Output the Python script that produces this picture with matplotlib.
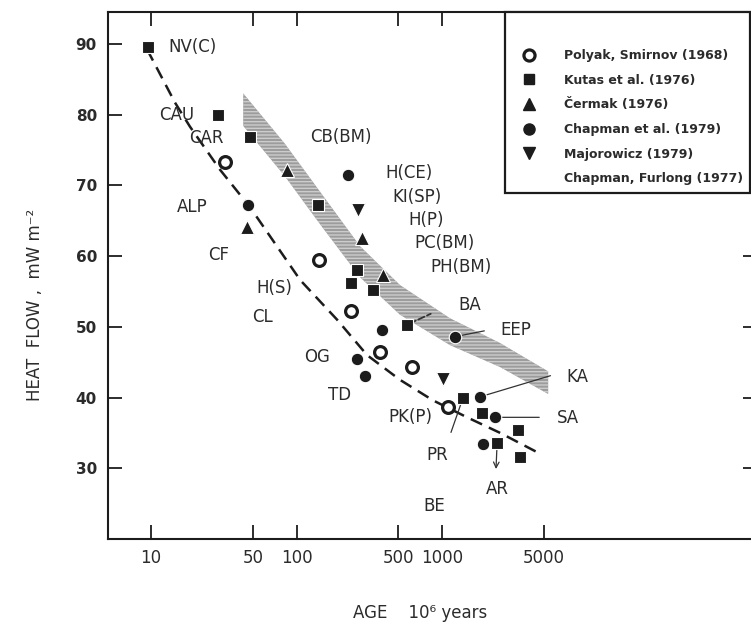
import matplotlib.pyplot as plt
from matplotlib.lines import Line2D
from matplotlib.ticker import NullLocator

# heat flow (mW m^-2) against age (10^6 years)
polyak_age = [32, 143, 237, 375, 622, 1100]
polyak_q = [73.3, 59.4, 52.2, 46.4, 44.3, 38.7]

kutas_age = [9.5, 29, 48, 140, 260, 237, 335, 575, 1390, 1880, 2390, 3330, 3430]
kutas_q = [89.6, 80.0, 76.8, 67.2, 58.0, 56.2, 55.2, 50.3, 39.9, 37.8, 33.6, 35.4, 31.6]

cermak_age = [46, 86, 282, 393]
cermak_q = [64.1, 72.2, 62.6, 57.3]

chapman_age = [46.5, 226, 387, 261, 296, 1227, 1824, 2312, 1913]
chapman_q = [67.2, 71.5, 49.5, 45.4, 43.0, 48.6, 40.1, 37.2, 33.4]

major_age = [265, 1016]
major_q = [66.5, 42.6]

# dashed trend curve
curve_age = [9.4, 14.6, 18.5, 29.8, 47.9, 106, 190, 305, 514, 866, 1486, 2506, 4570]
curve_q = [89.2, 81.7, 78.3, 72.2, 66.9, 56.6, 51.0, 46.0, 42.5, 39.6, 37.2, 35.0, 32.2]

# shaded band (Chapman, Furlong 1977)
band_age = [43, 83, 145, 273, 514, 1135, 2506, 5360]
band_hi = [83.0, 75.9, 69.1, 61.4, 55.9, 51.2, 47.7, 43.7]
band_lo = [78.4, 71.3, 64.5, 57.0, 51.7, 47.4, 44.3, 40.5]

region_names = ['NV(C)', 'CAU', 'CAR', 'ALP', 'CF', 'H(S)', 'CL', 'OG', 'TD',
                'PK(P)', 'PR', 'AR', 'BE', 'BA', 'EEP', 'KA', 'SA', 'CB(BM)',
                'H(CE)', 'KI(SP)', 'H(P)', 'PC(BM)', 'PH(BM)']
region_x = [19.4, 14.9, 23.9, 19.1, 29.3, 70, 57.9, 138, 199,
            603, 925, 2388, 881, 1556, 3228, 8470, 7350, 202,
            593, 673, 776, 1032, 1352]
region_y = [89.6, 80.0, 76.7, 66.9, 60.2, 55.5, 51.4, 45.7, 40.4,
            37.2, 31.9, 27.0, 24.7, 53.1, 49.5, 42.9, 37.1, 76.8,
            71.8, 68.4, 65.1, 61.9, 58.5]

age_ticks = [10, 50, 100, 500, 1000, 5000]
q_ticks = [30, 40, 50, 60, 70, 80, 90]

legend_labels = ['Polyak, Smirnov (1968)', 'Kutas et al. (1976)', 'Čermak (1976)',
                 'Chapman et al. (1979)', 'Majorowicz (1979)', 'Chapman, Furlong (1977)']

ink = '#1c1c1c'
txt = '#2b2b2b'

fig = plt.figure(figsize=(7.51, 6.25), dpi=100)
ax = fig.add_axes([108 / 751, 86 / 625, 649 / 751, 527 / 625])

ax.fill_between(band_age, band_lo, band_hi, facecolor='#9c9c9c', edgecolor='#cccccc',
                hatch='-----', linewidth=0, zorder=1)
ax.plot(curve_age, curve_q, color=ink, lw=1.8, ls=(0, (5, 3)), zorder=2)

ax.plot(polyak_age, polyak_q, 'o', ms=8.5, mfc='white', mec=ink, mew=2.3, zorder=4)
ax.plot(kutas_age, kutas_q, 's', ms=8, mfc=ink, mec='white', mew=0.8, zorder=4)
ax.plot(cermak_age, cermak_q, '^', ms=10, mfc=ink, mec='white', mew=0.8, zorder=4)
ax.plot(chapman_age, chapman_q, 'o', ms=9, mfc=ink, mec='white', mew=0.8, zorder=4)
ax.plot(major_age, major_q, 'v', ms=10, mfc=ink, mec='white', mew=0.8, zorder=4)

for name, x, y in zip(region_names, region_x, region_y):
    ax.text(x, y, name, ha='center', va='center', fontsize=12, color=txt, zorder=5)

# leader lines from points to their labels
line_kw = dict(arrowstyle='-', lw=0.9, color='#333333')
ax.annotate('', xy=(870, 52.0), xytext=(kutas_age[7], kutas_q[7]),
            arrowprops=dict(line_kw, ls='--', lw=1.3))
ax.annotate('', xy=(2037, 49.5), xytext=(chapman_age[5], chapman_q[5]), arrowprops=line_kw)
ax.annotate('', xy=(5800, 43.2), xytext=(chapman_age[6], chapman_q[6]), arrowprops=line_kw)
ax.annotate('', xy=(4860, 37.2), xytext=(chapman_age[7], chapman_q[7]), arrowprops=line_kw)
ax.annotate('', xy=(kutas_age[8], kutas_q[8]), xytext=(1135, 34.7), arrowprops=line_kw)
ax.annotate('', xy=(2343, 29.5), xytext=(kutas_age[10], kutas_q[10]),
            arrowprops=dict(arrowstyle='->', lw=0.9, color='#333333'))

ax.set_xscale('log')
ax.set_xlim(5.06, 1.46e5)
ax.set_ylim(20, 94.5)
ax.set_xticks(age_ticks, [str(t) for t in age_ticks])
ax.xaxis.set_minor_locator(NullLocator())
ax.set_yticks(q_ticks, [str(t) for t in q_ticks])
ax.tick_params(direction='in', length=10, width=1.3, top=True, right=True, colors=ink)
ax.tick_params(axis='x', labelsize=12, pad=7, labelcolor=txt)
ax.tick_params(axis='y', labelsize=11, pad=8, labelcolor=txt)
for lab in ax.get_yticklabels():
    lab.set_fontweight('bold')
for sp in ax.spines.values():
    sp.set_linewidth(1.5)
    sp.set_color(ink)

ax.set_xlabel('AGE    10⁶ years', fontsize=12, color=txt)
ax.xaxis.set_label_coords(0.481, -0.140)
ax.xaxis.label.set_va('center')
ax.set_ylabel('HEAT  FLOW ,  mW m⁻²', fontsize=12, color=txt)
ax.yaxis.set_label_coords(-0.1125, 0.444)
ax.yaxis.label.set_va('center')

handles = [
    Line2D([], [], ls='none', marker='o', ms=8, mfc='white', mec=ink, mew=2.3),
    Line2D([], [], ls='none', marker='s', ms=7.5, color=ink),
    Line2D([], [], ls='none', marker='^', ms=9, color=ink),
    Line2D([], [], ls='none', marker='o', ms=8, color=ink),
    Line2D([], [], ls='none', marker='v', ms=9, color=ink),
    Line2D([], [], ls='none'),
]
leg = ax.legend(handles, legend_labels, loc='upper left', bbox_to_anchor=((505 - 108) / 649, 1.0),
                borderaxespad=0, fancybox=False, framealpha=1, edgecolor=ink,
                prop={'size': 9, 'weight': 'bold'}, handlelength=2.6, handletextpad=1.5,
                borderpad=0.6, labelspacing=0.93, title=' ', title_fontsize=13)
leg.get_frame().set_linewidth(1.6)
for t in leg.get_texts():
    t.set_color(txt)
leg.set_zorder(6)

fig.savefig('out.png', dpi=100, facecolor='white')
